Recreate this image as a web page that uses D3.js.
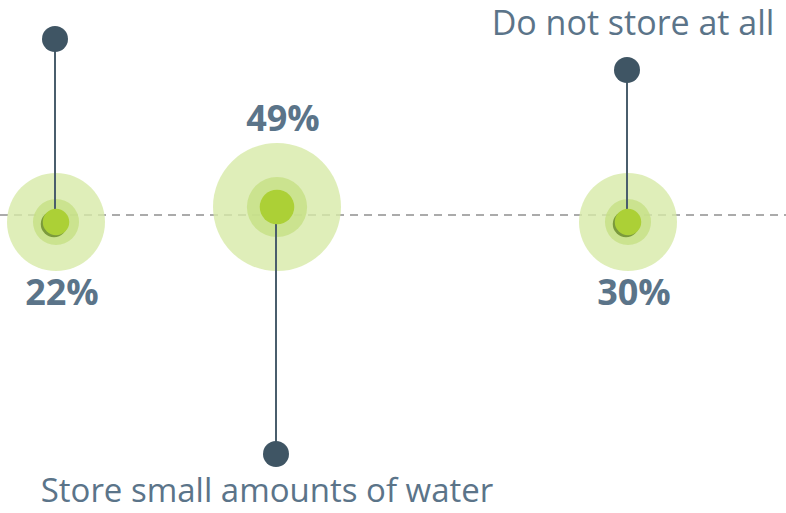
<!DOCTYPE html>
<html>
<head>
<meta charset="utf-8">
<script src="https://cdn.jsdelivr.net/npm/d3@7"></script>
<style>
    body { margin: 0; background: #fff; }
    svg { display: block; }
</style>
</head>
<body>
<svg id="svg" width="786" height="513"></svg>
<script>
// data
const categories = ["Store large amounts of water", "Store small amounts of water", "Do not store at all"];
const shares = [22, 49, 30];
const stemSides = ["up", "down", "up"];
// the first category's label sits above the frame in the original crop
const labelShown = [false, true, true];

const width = 786, height = 513;
const baseY = 271;     // bubbles sit on a common bottom line
const guideY = 215;

const svg = d3.select("#svg");

const x = d3.scaleOrdinal()
    .domain(categories)
    .range([56, 277, 628]);

// two bubble sizes in the original: small and large
const radius = d3.scaleThreshold()
    .domain([40])
    .range([49, 64]);

const stem = d3.scaleOrdinal()
    .domain(categories)
    .range([183, 247, 152]);

const rows = categories.map((c, i) => {
    const r = radius(shares[i]);
    const cy = baseY - r;
    const dir = stemSides[i] === "up" ? -1 : 1;
    return {
        name: c,
        value: shares[i],
        cx: x(c),
        cy: cy,
        r: r,
        dir: dir,
        end: cy + dir * stem(c),
        shadow: i !== 1,
        showLabel: labelShown[i]
    };
});

// dashed guide
svg.append("line")
    .attr("x1", 0)
    .attr("x2", width)
    .attr("y1", guideY)
    .attr("y2", guideY)
    .style("stroke", "#ababab")
    .style("stroke-width", 2)
    .style("stroke-dasharray", "8,6");

const g = svg.selectAll("g.item")
    .data(rows)
    .enter().append("g")
    .attr("class", "item");

g.append("circle")
    .attr("cx", d => d.cx)
    .attr("cy", d => d.cy)
    .attr("r", d => d.r)
    .style("fill", "#d7eaa8")
    .style("opacity", 0.8);

g.append("circle")
    .attr("cx", d => d.cx)
    .attr("cy", d => d.cy)
    .attr("r", d => d.r * 0.47)
    .style("fill", "#c6e084")
    .style("opacity", 0.8);

g.append("line")
    .attr("x1", d => d.cx - 1)
    .attr("x2", d => d.cx - 1)
    .attr("y1", d => d.cy)
    .attr("y2", d => d.end)
    .style("stroke", "#4a5e6c")
    .style("stroke-width", 2);

g.filter(d => d.shadow).append("circle")
    .attr("cx", d => d.cx - 2)
    .attr("cy", d => d.cy + 2)
    .attr("r", d => d.r * 0.27)
    .style("fill", "#7b9a3c");

g.append("circle")
    .attr("cx", d => d.cx)
    .attr("cy", d => d.cy)
    .attr("r", d => d.r * 0.27)
    .style("fill", "#acd036");

g.append("circle")
    .attr("cx", d => d.cx - 1)
    .attr("cy", d => d.end)
    .attr("r", 13)
    .style("fill", "#3f5564");

// percentages sit on the side opposite the stem
g.append("text")
    .attr("x", d => d.cx + 6)
    .attr("y", d => d.dir < 0 ? d.cy + d.r + 34 : d.cy - d.r - 12)
    .attr("text-anchor", "middle")
    .style("font-family", "'Open Sans', sans-serif")
    .style("font-weight", 700)
    .style("font-size", "36px")
    .style("fill", "#5b7489")
    .text(d => d.value + "%");

// category names, kept just inside the frame
g.filter(d => d.showLabel).append("text")
    .attr("x", d => d.cx + (d.dir < 0 ? 5 : -10))
    .attr("y", d => d.dir < 0 ? d.end - 35 : d.end + 48)
    .attr("text-anchor", "middle")
    .style("font-family", "'Open Sans', sans-serif")
    .style("font-weight", 400)
    .style("font-size", d => d.dir < 0 ? "34px" : "33px")
    .style("fill", "#5b7489")
    .text(d => d.name);
</script>
</body>
</html>
